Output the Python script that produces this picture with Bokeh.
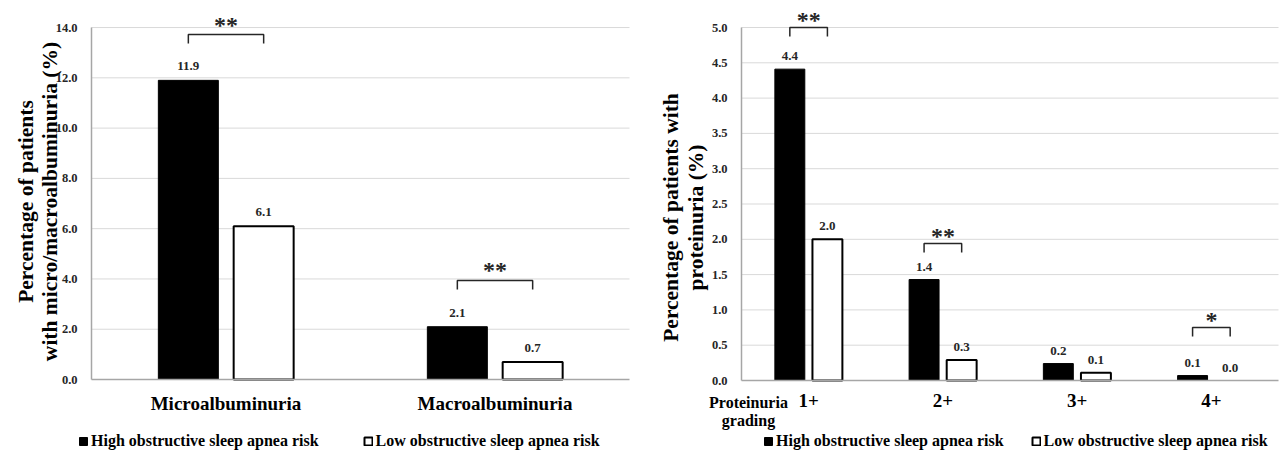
import math
from bokeh.plotting import figure
from bokeh.models import Range1d, FixedTicker, Legend, LegendItem, ColumnDataSource, PrintfTickFormatter
from bokeh.layouts import row
from bokeh.core.properties import value
from bokeh.embed import file_html
from bokeh.resources import INLINE

# ---------------- data ----------------
series_labels = ["High obstructive sleep apnea risk", "Low obstructive sleep apnea risk"]

alb_categories = ["Microalbuminuria", "Macroalbuminuria"]
alb_high = [11.9, 2.1]
alb_low = [6.1, 0.7]
alb_sig_index = [0, 1]
alb_sig_level = [13.72, 3.94]
alb_sig_stars = ["**", "**"]
alb_yticks = [0, 2, 4, 6, 8, 10, 12, 14]
alb_title = ["Percentage of patients", "with micro/macroalbuminuria (%)"]

prot_categories = ["1+", "2+", "3+", "4+"]
prot_high = [4.41, 1.43, 0.24, 0.07]
prot_low = [2.0, 0.29, 0.11, 0.0]
prot_sig_index = [0, 1, 3]
prot_sig_level = [5.0, 1.94, 0.75]
prot_sig_stars = ["**", "**", "*"]
prot_yticks = [0, 0.5, 1.0, 1.5, 2.0, 2.5, 3.0, 3.5, 4.0, 4.5, 5.0]
prot_title = ["Percentage of patients with", "proteinuria (%)"]
prot_axis_name = ["Proteinuria", "grading"]

FONT = "Liberation Serif"
BAR_W = 0.223
OFF = 0.14
GRID = "#d9d9d9"
AXIS = "#a6a6a6"
DARK = "#262626"
HEIGHT = 450


def make_panel(cats, high, low, sig_idx, sig_lvl, sig_txt, yticks, y_max,
               width, axis_left, axis_bottom, ppx, ppu,
               title_lines, title_x, title_y, legend_x, legend_spacing,
               label_off, star_off):
    # pixel -> data helpers (local canvas pixels)
    def dx(px):
        return (px - axis_left) / ppx

    def dy(py):
        return (axis_bottom - py) / ppu

    n = len(cats)
    p = figure(width=width, height=HEIGHT, output_backend="svg", toolbar_location=None,
               title=None, x_range=Range1d(dx(0), dx(width)), y_range=Range1d(dy(HEIGHT), dy(0)),
               min_border=0)
    p.outline_line_color = None
    p.background_fill_color = "white"
    p.border_fill_color = "white"
    p.xgrid.visible = False
    p.ygrid.visible = False

    # horizontal gridlines, limited to the plot area like the original
    grid_y = [t for t in yticks if t > 0]
    p.segment(x0=[0] * len(grid_y), x1=[n] * len(grid_y), y0=grid_y, y1=grid_y,
              line_color=GRID, line_width=1, level="underlay")

    centers = [i + 0.5 for i in range(n)]
    src_h = ColumnDataSource(dict(x=[c - OFF for c in centers], top=high,
                                  lab=[f"{v:.1f}" for v in high]))
    src_l = ColumnDataSource(dict(x=[c + OFF for c in centers], top=low,
                                  lab=[f"{v:.1f}" for v in low],
                                  la=[1.0 if v > 0 else 0.0 for v in low]))

    r_h = p.vbar(x="x", top="top", width=BAR_W, source=src_h, fill_color="black",
                 line_color="black", line_width=1)
    r_l = p.vbar(x="x", top="top", width=BAR_W, source=src_l, fill_color="white",
                 line_color="black", line_width=2, line_alpha="la")

    for src in (src_h, src_l):
        p.text(x="x", y="top", text="lab", source=src, text_align="center",
               text_baseline="middle", y_offset=label_off,
               text_font=value(FONT), text_font_style="bold", text_font_size="13px",
               text_color=DARK)

    # significance brackets
    drop = 9 / ppu
    xs, ys, sx, sy = [], [], [], []
    for i, lvl in zip(sig_idx, sig_lvl):
        x0 = centers[i] - OFF
        x1 = centers[i] + OFF
        xs.append([x0, x0, x1, x1])
        ys.append([lvl - drop, lvl, lvl, lvl - drop])
        sx.append(centers[i])
        sy.append(lvl)
    p.multi_line(xs=xs, ys=ys, line_color=DARK, line_width=1.5)
    p.text(x=sx, y=sy, text=sig_txt, text_align="center", text_baseline="alphabetic",
           y_offset=star_off, text_font=value(FONT), text_font_style="bold",
           text_font_size="24px", text_color=DARK)

    # axes (placed at data origin, limited by bounds)
    p.xaxis.fixed_location = 0
    p.xaxis.bounds = (0, n)
    p.xaxis.ticker = FixedTicker(ticks=centers)
    p.xaxis.major_label_overrides = {c: t for c, t in zip(centers, cats)}
    p.xaxis.major_label_text_font = FONT
    p.xaxis.major_label_text_font_style = "bold"
    p.xaxis.major_label_text_font_size = "19px"
    p.xaxis.major_label_text_color = "black"
    p.xaxis.major_label_standoff = 7
    p.xaxis.major_tick_line_color = None
    p.xaxis.minor_tick_line_color = None
    p.xaxis.axis_line_color = AXIS
    p.xaxis.axis_line_width = 1.5

    p.yaxis.fixed_location = 0
    p.yaxis.bounds = (0, y_max)
    p.yaxis.ticker = FixedTicker(ticks=yticks)
    p.yaxis.formatter = PrintfTickFormatter(format="%.1f")
    p.yaxis.major_label_text_font = FONT
    p.yaxis.major_label_text_font_style = "bold"
    p.yaxis.major_label_text_font_size = "12.5px"
    p.yaxis.major_label_text_color = DARK
    p.yaxis.major_label_standoff = 8
    p.yaxis.major_tick_line_color = None
    p.yaxis.minor_tick_line_color = None
    p.yaxis.axis_line_color = AXIS
    p.yaxis.axis_line_width = 1.5

    # y title: two centred, rotated lines
    p.text(x=[dx(tx) for tx in title_x], y=[dy(title_y)] * len(title_lines), text=title_lines,
           angle=math.pi / 2, text_align="center", text_baseline="middle",
           text_font=value(FONT), text_font_style="bold", text_font_size="21.5px",
           text_color="black")

    legend = Legend(items=[LegendItem(label=series_labels[0], renderers=[r_h]),
                           LegendItem(label=series_labels[1], renderers=[r_l])],
                    orientation="horizontal", location=(legend_x, 0),
                    glyph_width=10, glyph_height=10, label_standoff=3, spacing=legend_spacing,
                    padding=0, margin=0, border_line_color=None, background_fill_alpha=0,
                    label_text_font=FONT, label_text_font_style="bold",
                    label_text_font_size="16px", label_text_color="black",
                    label_height=16)
    p.add_layout(legend, "center")
    return p, dx, dy


p1, dx1, dy1 = make_panel(
    alb_categories, alb_high, alb_low, alb_sig_index, alb_sig_level, alb_sig_stars,
    alb_yticks, 14, width=640, axis_left=91, axis_bottom=379, ppx=269, ppu=25.14,
    title_lines=alb_title, title_x=[25, 49], title_y=201, legend_x=78, legend_spacing=44,
    label_off=-14, star_off=-10)

p2, dx2, dy2 = make_panel(
    prot_categories, prot_high, prot_low, prot_sig_index, prot_sig_level, prot_sig_stars,
    prot_yticks, 5.0, width=642, axis_left=101, axis_bottom=380, ppx=134.25, ppu=70.6,
    title_lines=prot_title, title_x=[30, 55], title_y=217, legend_x=123, legend_spacing=27,
    label_off=-13, star_off=-8)

p2.text(x=[dx2(108)] * 2, y=[dy2(402), dy2(420)], text=prot_axis_name, text_align="center",
        text_baseline="middle", text_font=value(FONT), text_font_style="bold",
        text_font_size="16px", text_color="black")

layout = row(p1, p2)
open("out.html", "w").write(file_html(layout, INLINE))
